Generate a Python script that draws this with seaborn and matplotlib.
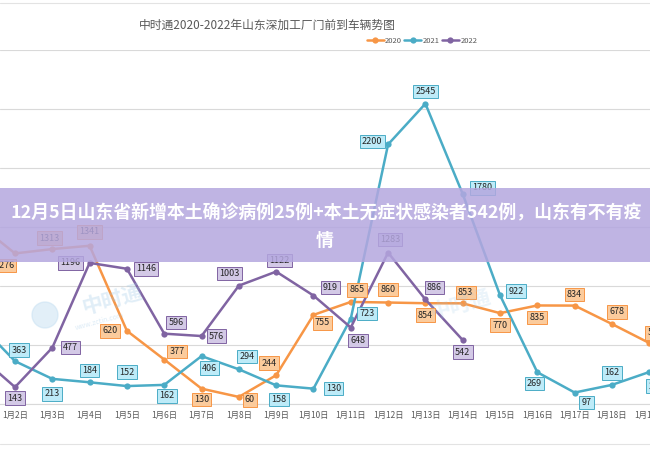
import numpy as np
import pandas as pd
import matplotlib.pyplot as plt
import seaborn as sns
from matplotlib.patches import Rectangle, Ellipse
from matplotlib.lines import Line2D

sns.set_style('white')
plt.rcParams['font.family'] = ['Noto Sans CJK SC', 'DejaVu Sans']
plt.rcParams['axes.unicode_minus'] = False

# 데이터 (1월1일 ~ 1월19일)
days = list(range(1, 20))
tick_labels = [f'1月{d}日' for d in days]
years = ['2020', '2021', '2022']
v2020 = [1530, 1276, 1313, 1341, 620, 377, 130, 60, 244, 755, 865, 860, 854, 853, 770, 835, 834, 678, 517]
v2021 = [690, 363, 213, 184, 152, 162, 406, 294, 158, 130, 723, 2200, 2545, 1780, 922, 269, 97, 162, 271]
v2022 = [420, 143, 477, 1196, 1146, 596, 576, 1003, 1122, 919, 648, 1283, 886, 542] + [np.nan] * 5

df = pd.DataFrame({
    '日期': days * 3,
    '车辆': v2020 + v2021 + v2022,
    '年份': [y for y in years for _ in days],
})

colors = {'2020': '#F79646', '2021': '#4BACC6', '2022': '#8064A2'}
fills = {'2020': '#FBCB9C', '2021': '#BDEBF8', '2022': '#D3C9E6'}

# 라벨 위치 (픽셀 오프셋, 아래쪽이 +)
offsets = {
    '2020': [None, (-11, 12), (-3, -11), (0, -14), (-17, 0), (13, -8), (0, 11), (11, 3), (-7, -12),
             (9, 8), (6, -12), (0, -13), (0, 12), (3, -11), (0, 12), (0, 12), (0, -11), (5, -12), (6, -10)],
    '2021': [None, (4, -11), (0, 15), (0, -12), (0, -14), (3, 11), (8, 12), (8, -13), (3, 14),
             (20, 0), (16, -5), (-16, -3), (0, -12), (20, -6), (16, -4), (-3, 11), (12, 10), (0, -12), (7, 14)],
    '2022': [None, (0, 11), (18, 0), (-19, 0), (19, 0), (12, -11), (15, 0), (-9, -12), (3, -11),
             (17, -8), (7, 13), (2, -13), (9, -12), (0, 12)],
}
values = {'2020': v2020, '2021': v2021, '2022': v2022}

fig = plt.figure(figsize=(6.5, 4.5), dpi=100)
ax = fig.add_axes([0, 46 / 450, 1, 354 / 450])

sns.lineplot(data=df, x='日期', y='车辆', hue='年份', palette=colors, marker='o',
             markersize=4.5, markeredgewidth=0, linewidth=1.8, legend=False, ax=ax)

for y in years:
    for i, off in enumerate(offsets[y]):
        if off is None:
            continue
        ax.annotate(f'{values[y][i]:.0f}', (days[i], values[y][i]), xytext=(off[0], -off[1]),
                    textcoords='offset pixels', ha='center', va='center', fontsize=6.5,
                    color='#262626', zorder=5,
                    bbox=dict(boxstyle='square,pad=0.25', fc=fills[y], ec=colors[y], lw=0.7))

ax.set_xticks(days)
ax.set_xticklabels(tick_labels, fontsize=6, color='#595959')
ax.set_yticks(range(0, 3001, 500))
ax.set_yticklabels([])
ax.set_xlim(1.598, 19.02)
ax.set_ylim(0, 3000)
ax.tick_params(length=0, pad=5)
ax.grid(axis='y', color='#d9d9d9', lw=0.8)
ax.set_xlabel('')
ax.set_ylabel('')
for s in ['top', 'left', 'right']:
    ax.spines[s].set_visible(False)
ax.spines['bottom'].set_color('#d9d9d9')

# 테두리 선
fig.add_artist(Line2D([0, 1], [1 - 3 / 450, 1 - 3 / 450], color='#e3e3e3', lw=0.8))
fig.add_artist(Line2D([0, 1], [1 - 444 / 450, 1 - 444 / 450], color='#e3e3e3', lw=0.8))

# 워터마크
fig.add_artist(Ellipse((45 / 650, 1 - 315 / 450), 26 / 650, 26 / 450, color='#C6E0F2', alpha=0.5, zorder=1))
fig.text(112 / 650, 1 - 300 / 450, '中时通', fontsize=15, fontweight='bold', color='#9CC7E6',
         alpha=0.3, rotation=15, ha='center', va='center')
fig.text(100 / 650, 1 - 322 / 450, 'www.zctin.com', fontsize=5, color='#9CC7E6',
         alpha=0.35, rotation=15, ha='center', va='center')
fig.text(460 / 650, 1 - 305 / 450, '中时通', fontsize=15, fontweight='bold', color='#9CC7E6',
         alpha=0.2, rotation=15, ha='center', va='center')

# 제목 / 범례
fig.text(267 / 650, 1 - 25 / 450, '中时通2020-2022年山东深加工厂门前到车辆势图',
         fontsize=8.5, color='#595959', ha='center', va='center')
fig.legend(ax.lines[:3], years, loc='center', bbox_to_anchor=(422 / 650, 1 - 41 / 450), ncol=3,
           fontsize=5.5, frameon=False, handlelength=2.2, columnspacing=0.3, handletextpad=0.2,
           labelcolor='#595959')

# 배너
fig.add_artist(Rectangle((0, (450 - 262) / 450), 1, 74 / 450, transform=fig.transFigure,
                         facecolor='#B4A7DF', alpha=0.85, edgecolor='none', zorder=10))
fig.text(326 / 650, 1 - 213 / 450, '12月5日山东省新增本土确诊病例25例+本土无症状感染者542例，山东有不有疫',
         fontsize=12.9, fontweight='bold', color='white', ha='center', va='center', zorder=11)
fig.text(325 / 650, 1 - 241 / 450, '情', fontsize=12.9, fontweight='bold', color='white',
         ha='center', va='center', zorder=11)

plt.savefig('out.png', dpi=100)
plt.close()
